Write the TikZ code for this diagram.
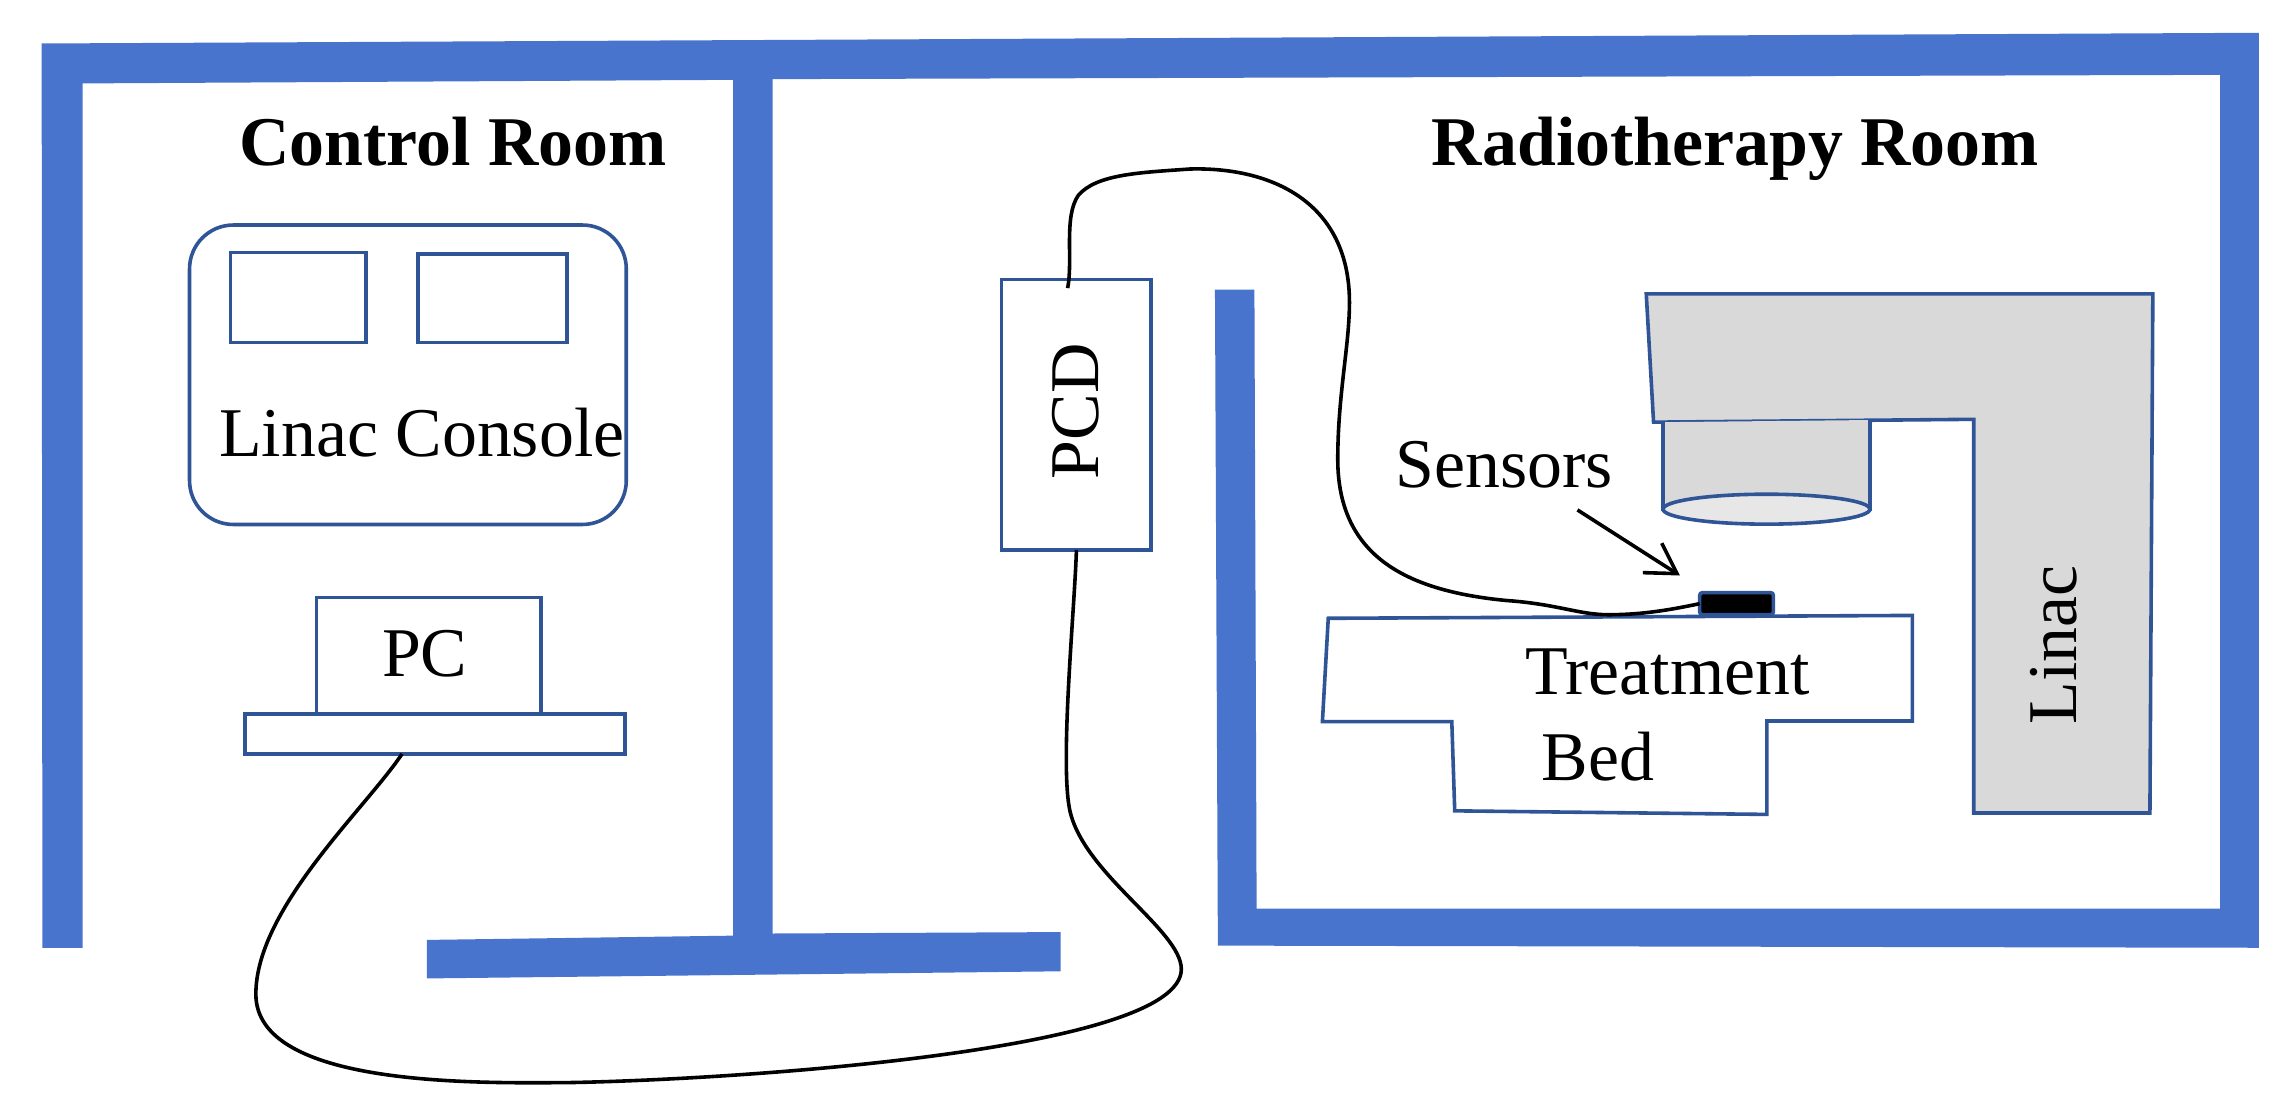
\documentclass[tikz,border=0pt]{standalone}
\usepackage{fontspec}
\setmainfont{Liberation Serif}
\usepackage{xcolor}
\usetikzlibrary{arrows.meta}
\definecolor{wallblue}{HTML}{4874CD}
\definecolor{edgeblue}{HTML}{2F5597}
\definecolor{linacgray}{HTML}{D9D9D9}
\definecolor{lensgray}{HTML}{E7E7E7}
\tikzset{>=latex}
\tikzset{
	box/.style={draw=edgeblue,line width=0.7pt,fill=white,inner sep=0pt,outer sep=0pt},
	outline/.style={draw=edgeblue,line width=0.7pt},
	txt/.style={font=\fontsize{13.6}{16}\selectfont,inner sep=0pt,anchor=base},
	title/.style={font=\fontsize{13.6}{16}\selectfont\bfseries,inner sep=0pt,anchor=base},
	cable/.style={draw=black,line width=0.7pt}
}
\begin{document}
\begin{tikzpicture}[x=0.005cm,y=-0.00489cm]
            \useasboundingbox (0,-4) rectangle (3134,1565.5);
            \fill[wallblue] (57,57) -- (3090,42) -- (3090,1325) -- (1666,1322) -- (1662,402) -- (1716,402) -- (1719,1270) -- (3037,1270) -- (3037,101) -- (1057,107) -- (1057,1305) -- (1451,1303) -- (1451,1358) -- (584,1368) -- (584,1314) -- (1003,1308) -- (1003,108) -- (113,113) -- (113,1325) -- (58,1325) -- cycle;
            \node[title] (controlroom) at (620,228) {Control Room};
            \node[title] (radioroom) at (2374,228) {Radiotherapy Room};
            \node[box,rounded corners=0.3cm,minimum width=2.99cm,minimum height=2.05cm] (console) at (558,521.5) {};
            \node[box,minimum width=0.93cm,minimum height=0.616cm] (screenA) at (408,413) {};
            \node[box,minimum width=1.02cm,minimum height=0.606cm] (screenB) at (674,414) {};
            \node[txt] (consolelabel) at (577,636) {Linac Console};
            \node[box,minimum width=1.535cm,minimum height=0.797cm] (pc) at (586.5,915.5) {};
            \node[box,minimum width=2.6cm,minimum height=0.274cm] (pcstand) at (595,1025) {};
            \node[txt] (pclabel) at (581,945) {PC};
            \node[box,minimum width=1.025cm,minimum height=1.853cm] (pcd) at (1472.5,577.5) {};
            \node[txt,rotate=90] (pcdlabel) at (1503,573) {PCD};
            \filldraw[outline,fill=linacgray] (2252,408) -- (2945,408) -- (2941,1136) -- (2700,1136) -- (2700,584) -- (2262,588) -- cycle;
            \filldraw[outline,fill=linacgray] (2275,588) -- (2275,710) -- (2558,710) -- (2558,585);
            \filldraw[outline,fill=lensgray] (2416.5,710) ellipse (141.5 and 21);
            \node[txt,rotate=90] (linaclabel) at (2840,900) {Linac};
            \filldraw[outline,fill=white] (1817,863) -- (2616,859) -- (2616,1007) -- (2417,1007) -- (2417,1138) -- (1990,1133) -- (1986,1008) -- (1809,1008) -- cycle;
            \node[txt] (treatlabel) at (2281,970) {Treatment};
            \node[txt] (bedlabel) at (2186,1090) {Bed};
            \node[box,fill=black,rounded corners=0.02cm,minimum width=0.505cm,minimum height=0.152cm] (sensor) at (2375.5,842.5) {};
            \node[txt] (sensorlabel) at (2058,680) {Sensors};
            \coordinate (sensortip) at (2298,803);
            \draw[line width=0.7pt,-{Straight Barb[length=0.2cm,width=0.24cm]}] ([xshift=0.5cm,yshift=-0.14cm]sensorlabel.south) -- (sensortip);
            \draw[cable] ([xshift=-0.225cm]pcstand.south) .. controls (500,1130) and (350,1270) .. (350,1390) .. controls (350,1520) and (650,1515) .. (780,1514) .. controls (1000,1510) and (1616,1470) .. (1616,1355) .. controls (1616,1300) and (1480,1220) .. (1463,1130) .. controls (1450,1060) and (1470,850) .. (pcd.south);
            \draw[cable] ([xshift=-0.06cm,yshift=-0.06cm]pcd.north) .. controls (1468,360) and (1455,300) .. (1475,270) .. controls (1500,240) and (1560,238) .. (1628,233) .. controls (1740,230) and (1846,280) .. (1846,420) .. controls (1846,480) and (1830,550) .. (1830,640) .. controls (1830,780) and (1930,825) .. (2060,838) .. controls (2130,843) and (2160,858) .. (2200,858) .. controls (2250,858) and (2290,850) .. (sensor.west);
        \end{tikzpicture}
\end{document}
